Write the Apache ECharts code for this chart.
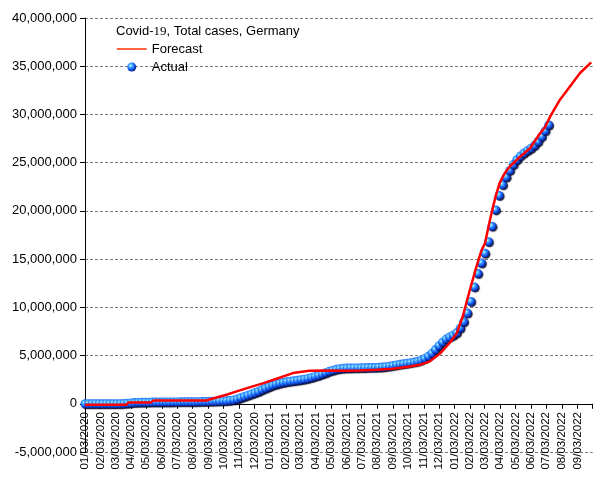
<!DOCTYPE html>
<html>
<head>
<meta charset="utf-8">
<script src="https://cdn.jsdelivr.net/npm/echarts@6/dist/echarts.min.js"></script>
<style>html,body{margin:0;padding:0;background:#fff}#c{width:605px;height:480px}</style>
</head>
<body>
<div id="c"></div>
<script>
// Tick labels (month positions on the date axis, MM/DD/YYYY)
const tickLabels = ['01/03/2020','02/03/2020','03/03/2020','04/03/2020','05/03/2020','06/03/2020','07/03/2020','08/03/2020','09/03/2020','10/03/2020','11/03/2020','12/03/2020',
  '01/03/2021','02/03/2021','03/03/2021','04/03/2021','05/03/2021','06/03/2021','07/03/2021','08/03/2021','09/03/2021','10/03/2021','11/03/2021','12/03/2021',
  '01/03/2022','02/03/2022','03/03/2022','04/03/2022','05/03/2022','06/03/2022','07/03/2022','08/03/2022','09/03/2022'];
const axisEnd = '10/03/2022';
const yTicks = [-5000000, 0, 5000000, 10000000, 15000000, 20000000, 25000000, 30000000, 35000000, 40000000];

// Forecast series (dates, values in millions)
const forecastDates = ['2020-01-03','2020-03-25','2020-03-29','2020-05-12','2020-05-18','2020-08-30','2020-09-19','2020-10-09','2020-10-29','2020-11-25','2020-12-21',
  '2021-01-16','2021-02-17','2021-03-22','2021-04-25','2021-05-27','2021-06-29','2021-08-02','2021-09-03','2021-10-06','2021-10-26','2021-11-15','2021-12-05','2021-12-24',
  '2022-01-07','2022-01-19','2022-02-02','2022-02-15','2022-02-25','2022-03-04','2022-03-14','2022-03-24','2022-04-02','2022-04-12','2022-04-22','2022-05-12','2022-06-01',
  '2022-06-21','2022-07-01','2022-07-11','2022-07-30','2022-08-19','2022-09-08','2022-09-30'];
const forecastMillions = [-0.1,-0.1,0.13,0.13,0.34,0.34,0.65,0.93,1.28,1.73,2.14,
  2.6,3.18,3.42,3.45,3.42,3.45,3.52,3.64,3.87,4.04,4.4,5.2,6.3,
  7.3,9.05,11.8,14.2,15.9,16.65,19.1,21.3,22.9,23.9,24.6,25.6,26.5,
  28.05,28.7,29.8,31.5,32.9,34.3,35.4];

// Actual series: weekly observations starting 2020-01-03 (values in millions)
const actualStart = '2020-01-03';
const actualStepDays = 7;
const actualMillions = [0,0,0,0,0,0,0,0,0,0.001,0.004,0.02,0.05,0.09,0.12,0.14,0.155,0.164,0.17,0.175,0.179,0.182,0.185,0.188,0.19,0.194,
  0.196,0.199,0.202,0.205,0.21,0.215,0.223,0.232,0.241,0.249,0.258,0.27,0.284,0.298,0.317,0.348,0.404,0.499,0.62,0.752,0.88,1.006,
  1.131,1.273,1.451,1.609,1.76,1.91,2.03,2.13,2.21,2.28,2.33,2.38,2.43,2.49,2.55,2.63,2.73,2.84,2.94,3.08,3.22,3.36,3.48,3.57,3.64,3.68,
  3.70,3.71,3.72,3.72,3.73,3.74,3.75,3.76,3.77,3.79,3.81,3.85,3.90,3.96,4.03,4.10,4.15,4.20,4.26,4.32,4.40,4.52,4.70,4.94,5.25,5.62,
  6.02,6.39,6.71,6.92,7.11,7.37,7.85,8.5,9.4,10.6,12.1,13.5,14.6,15.6,16.8,18.4,20.1,21.6,22.7,23.5,24.2,24.8,25.3,25.7,26.0,26.25,
  26.5,26.8,27.2,27.7,28.3,28.9];

function parseMDY(s){ const p = s.split('/'); return new Date(+p[2], +p[0]-1, +p[1]).getTime(); }
function parseISO(s){ const p = s.split('-'); return new Date(+p[0], +p[1]-1, +p[2]).getTime(); }
const tickVals = tickLabels.map(parseMDY);
const endVal = parseMDY(axisEnd);

const forecastData = forecastDates.map((d,i)=>[parseISO(d), forecastMillions[i]*1e6]);
const s0 = actualStart.split('-');
const actualData = actualMillions.map((v,i)=>[new Date(+s0[0], +s0[1]-1, +s0[2] + i*actualStepDays).getTime(), v*1e6]);

function fmtNum(v){ const neg = v < 0; let s = String(Math.abs(Math.round(v))); s = s.replace(/\B(?=(\d{3})+(?!\d))/g, ','); return (neg?'-':'') + s; }
function nearestLabel(v){ let best='', bd=Infinity; tickVals.forEach((t,i)=>{ const d=Math.abs(t-v); if(d<bd){bd=d;best=tickLabels[i];} }); return bd < 86400000 ? best : ''; }

const ball = {type:'radial', x:0.38, y:0.35, r:0.72, colorStops:[
  {offset:0, color:'#d8f6ff'},{offset:0.2, color:'#5cc4ff'},{offset:0.5, color:'#1f6fff'},{offset:0.8, color:'#0a30b4'},{offset:1, color:'#00135e'}]};

const chart = echarts.init(document.getElementById('c'), null, {renderer:'canvas'});
chart.setOption({
  backgroundColor:'#ffffff',
  animation:false,
  textStyle:{fontFamily:'Liberation Sans'},
  title:{
    left:116, top:25, padding:0,
    text:'{a|Covid-}{b|19}{a|, Total cases, Germany}',
    textStyle:{fontWeight:'normal', rich:{
      a:{fontFamily:'Liberation Sans', fontSize:13, fontWeight:'normal', color:'#000'},
      b:{fontFamily:'Liberation Serif', fontSize:13, fontWeight:'normal', color:'#000'}
    }}
  },
  legend:{
    orient:'vertical', left:116, top:42, padding:0, itemWidth:30, itemHeight:9, itemGap:4,
    textStyle:{fontFamily:'Liberation Sans', fontSize:13, color:'#000', lineHeight:14},
    data:[
      {name:'Forecast', itemStyle:{opacity:0, borderWidth:0}, lineStyle:{color:'#ff3300', width:1.5}},
      {name:'Actual'}
    ]
  },
  grid:{left:85, right:12.3, top:18, bottom:28, containLabel:false, outerBoundsMode:'none'},
  xAxis:{
    type:'value', min:tickVals[0], max:endVal, scale:true,
    axisLine:{show:true, onZero:true, lineStyle:{color:'#000', width:1}},
    axisTick:{show:true, length:5, customValues: tickVals.concat([endVal]), lineStyle:{color:'#000'}},
    axisLabel:{customValues: tickVals, rotate:90, margin:-40, fontSize:11.5, color:'#000', fontFamily:'Liberation Sans',
      formatter:function(v){ return nearestLabel(v); }},
    splitLine:{show:false}
  },
  yAxis:{
    type:'value', min:yTicks[0], max:yTicks[yTicks.length-1], interval:yTicks[1]-yTicks[0],
    axisLine:{show:true, onZero:false, lineStyle:{color:'#000', width:1}},
    axisTick:{show:true, length:5, lineStyle:{color:'#000'}},
    axisLabel:{formatter:fmtNum, fontSize:13, color:'#000', margin:8, fontFamily:'Liberation Sans'},
    splitLine:{show:true, lineStyle:{color:'#7a7a7a', type:[3,2], width:1}}
  },
  series:[
    {name:'Actual', type:'scatter', data:actualData, symbol:'circle', symbolSize:9, z:2,
      itemStyle:{color:ball, opacity:1, shadowColor:'rgba(0,0,30,0.85)', shadowBlur:1, shadowOffsetX:1, shadowOffsetY:1}},
    {name:'Forecast', type:'line', data:forecastData, symbol:'none', showSymbol:false, z:3,
      lineStyle:{color:'#ff0000', width:2.5}, itemStyle:{color:'#ff0000'}}
  ]
});
</script>
</body>
</html>
